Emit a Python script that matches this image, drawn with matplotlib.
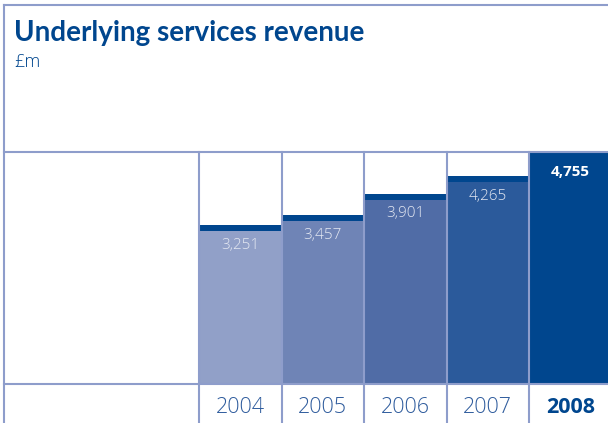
import matplotlib
matplotlib.use("Agg")
import matplotlib.pyplot as plt
from matplotlib.lines import Line2D

years = ["2004", "2005", "2006", "2007", "2008"]
revenue = [3251, 3457, 3901, 4265, 4755]
labels = ["3,251", "3,457", "3,901", "4,265", "4,755"]
bar_colors = ["#91a0c8", "#6f84b6", "#506ca6", "#2b5a9b", "#00468e"]

navy = "#00468e"
rule = "#8e9dcb"
W, H = 608, 423

plt.rcParams["font.family"] = ["Open Sans", "DejaVu Sans"]

fig = plt.figure(figsize=(W / 100, H / 100), dpi=100)

# plot area: five columns of ~82.5px starting at x=199, between the two rules
left, top, bottom = 199, 152, 384
col = 82.5
ax = fig.add_axes([left / W, (H - bottom) / H, 5 * col / W, (bottom - top) / H])

x = range(len(years))
ax.bar(x, revenue, width=1.0, color=bar_colors, linewidth=0)
# dark band along the top of each bar
cap = 6 / (bottom - top) * max(revenue)
ax.bar(x, [cap] * len(revenue), bottom=[v - cap for v in revenue],
       width=1.0, color=navy, linewidth=0)

ax.set_xlim(-0.5, len(years) - 0.5)
ax.set_ylim(0, max(revenue))
for s in ax.spines.values():
    s.set_visible(False)
ax.set_yticks([])
ax.set_xticks(list(x))
ax.set_xticklabels(years)
ax.tick_params(axis="x", length=0, pad=9)
for i, t in enumerate(ax.get_xticklabels()):
    t.set_fontsize(15.5)
    if i == len(years) - 1:
        t.set_color(navy)
        t.set_fontweight("bold")
    else:
        t.set_color("#2f5c9d")
        t.set_fontweight("light")

for i, (v, lab) in enumerate(zip(revenue, labels)):
    last = i == len(years) - 1
    ax.annotate(lab, (i, v), xytext=(0, -14.5), textcoords="offset points",
                ha="center", va="center", fontsize=11,
                color="white" if last else "#e4e8f2",
                fontweight="bold" if last else "light")

# column dividers running down through the year row
for b in range(len(years)):
    ax.axvline(b - 0.5, ymin=-(H - bottom) / (bottom - top), ymax=1,
               color=rule, lw=1.5, clip_on=False, zorder=3)


def hline(y, x0=4, x1=W):
    fig.add_artist(Line2D([x0 / W, x1 / W], [1 - y / H, 1 - y / H],
                          color=rule, lw=1.5, transform=fig.transFigure))


hline(5)
hline(top)
hline(bottom)
fig.add_artist(Line2D([4 / W, 4 / W], [0, 1 - 5 / H], color=rule, lw=1.5,
                      transform=fig.transFigure))

fig.text(14 / W, 1 - 41 / H, "Underlying services revenue", fontsize=20,
         fontweight="bold", color=navy, va="baseline", ha="left",
         family=["Lato", "DejaVu Sans"])
fig.text(14 / W, 1 - 62 / H, "£m", fontsize=13, fontweight="light",
         color=navy, va="center", ha="left")

fig.savefig("out.png", dpi=100)
